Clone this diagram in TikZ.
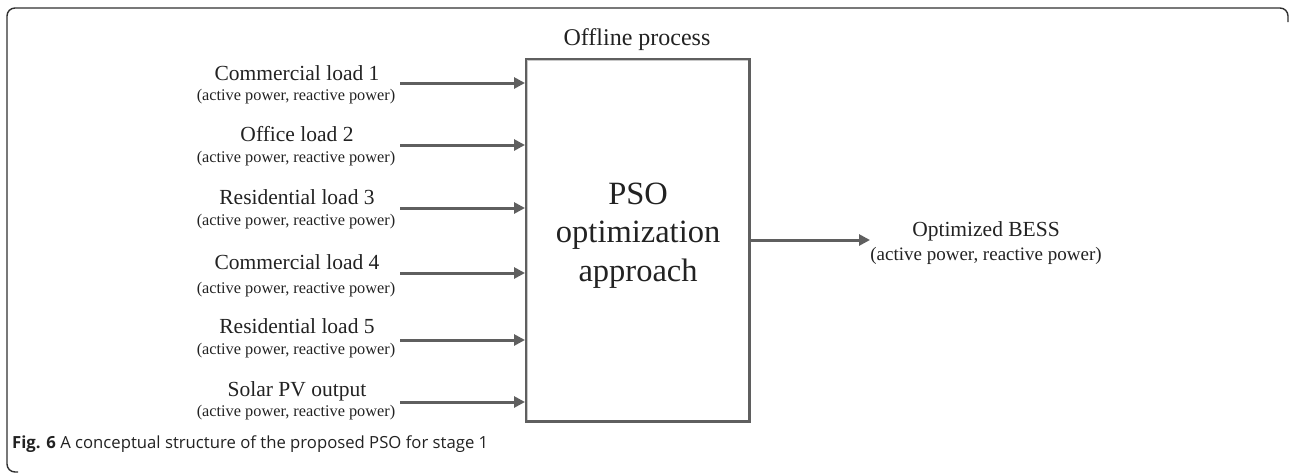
\documentclass[tikz,border=0pt]{standalone}
\usepackage{fontspec}
\setmainfont{Liberation Serif}
\newfontfamily\capfont{Open Sans}
\usetikzlibrary{arrows.meta}
\definecolor{linegray}{HTML}{5F5F5F}
\definecolor{shadegray}{HTML}{C8C8C8}
\definecolor{framegray}{HTML}{303030}
\definecolor{txt}{HTML}{222222}
\tikzset{
  mainlbl/.style={font=\fontsize{21.5}{24}\selectfont, text=txt, inner sep=0pt, anchor=base},
  sublbl/.style={font=\fontsize{16.3}{18}\selectfont, text=txt, inner sep=0pt, anchor=base},
  arr/.style={draw=linegray, line width=3pt, -{Triangle[length=11pt,width=11pt]}},
}
\begin{document}
\begin{tikzpicture}[x=1pt,y=-1pt]
\useasboundingbox (0,0) rectangle (1290,474);
% frame
\draw[framegray, line width=1.4pt, rounded corners=8pt] (18,472) -- (7,472) -- (7,8) -- (1288,8) -- (1288,22);
% main box
\node[draw=linegray, line width=3.2pt, minimum width=223pt, minimum height=362pt, inner sep=0pt, anchor=north west] (box) at (525,58) {};
\draw[shadegray, line width=1.2pt] ([xshift=2.8pt,yshift=2.8pt]box.south west) -- ([xshift=2.8pt,yshift=-2.8pt]box.north west) -- ([xshift=-2.8pt,yshift=-2.8pt]box.north east);
\node[font=\fontsize{32.5}{38.5}\selectfont, text=txt, align=center] (pso) at ([yshift=5pt]box.center) {PSO\\optimization\\approach};
\node[font=\fontsize{24}{26}\selectfont, text=txt, anchor=base, inner sep=0pt] (off) at (637,45) {Offline process};
% inputs
\foreach \i/\t/\ym/\ys/\ya in {1/Commercial load 1/80/100/83,
                              2/Office load 2/141/162/145,
                              3/Residential load 3/204/225/208,
                              4/Commercial load 4/269/293/273,
                              5/Residential load 5/333/354/340,
                              6/Solar PV output/396/416/402}{
  \node[mainlbl] (m\i) at (297,\ym) {\t};
  \node[sublbl] (s\i) at (296,\ys) {(active power, reactive power)};
  \coordinate (a\i) at (400,\ya);
  \draw[arr] (a\i) -- (box.west |- a\i);
}
% output
\coordinate (o) at (870,240);
\draw[arr] (box.east |- o) -- (o);
\node[font=\fontsize{21.5}{24}\selectfont, text=txt, inner sep=0pt, anchor=base] (ob) at (986,236) {Optimized BESS};
\node[font=\fontsize{19}{21}\selectfont, text=txt, inner sep=0pt, anchor=base] (os) at (986,260) {(active power, reactive power)};
% caption
\node[anchor=base west, inner sep=0pt, font=\capfont\fontsize{16.7}{19}\selectfont, text=txt] (cap) at (12,448) {\textbf{Fig. 6} A conceptual structure of the proposed PSO for stage 1};
\end{tikzpicture}
\end{document}
